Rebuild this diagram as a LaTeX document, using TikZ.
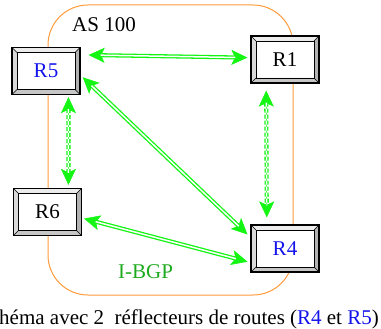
\documentclass[tikz,border=0pt]{standalone}
\usepackage{fontspec}
\setmainfont{Liberation Serif}
\usetikzlibrary{arrows.meta,calc}
\definecolor{bgpgreen}{RGB}{20,245,20}
\definecolor{ibgp}{RGB}{30,170,30}
\definecolor{asorange}{RGB}{255,155,60}
\definecolor{rblue}{RGB}{20,20,235}
\tikzset{
  router/.style={minimum width=68pt, minimum height=47pt, inner sep=0pt,
    fill=white, draw=black, line width=1.2pt, font=\fontsize{21}{21}\selectfont,
    path picture={
      \coordinate (nw) at (path picture bounding box.north west);
      \coordinate (ne) at (path picture bounding box.north east);
      \coordinate (sw) at (path picture bounding box.south west);
      \coordinate (se) at (path picture bounding box.south east);
      \coordinate (inw) at ($(nw)+(5pt,-5pt)$);
      \coordinate (ine) at ($(ne)+(-5pt,-5pt)$);
      \coordinate (isw) at ($(sw)+(5pt,5pt)$);
      \coordinate (ise) at ($(se)+(-5pt,5pt)$);
      \fill[gray!15] (nw) -- (ne) -- (ine) -- (inw) -- cycle;
      \fill[gray!30] (nw) -- (inw) -- (isw) -- (sw) -- cycle;
      \fill[gray!60] (ne) -- (se) -- (ise) -- (ine) -- cycle;
      \fill[gray!45] (sw) -- (isw) -- (ise) -- (se) -- cycle;
      \draw[line width=0.8pt] (inw) rectangle (ise);
      \draw[line width=0.6pt] (nw) -- (inw) (ne) -- (ine) (sw) -- (isw) (se) -- (ise);
    }},
  tips/.style={draw=bgpgreen, fill=bgpgreen, line width=0.5pt,
    {Stealth[length=16pt,width=15pt,inset=3.5pt]}-{Stealth[length=16pt,width=15pt,inset=3.5pt]}},
  dline/.style={draw=bgpgreen, line width=1.3pt, double=white, double distance=1.5pt},
  lbl/.style={font=\fontsize{21}{21}\selectfont, inner sep=0pt}
}
\begin{document}
\begin{tikzpicture}[x=1pt,y=-1pt]
\useasboundingbox (0,0) rectangle (381,329);
\draw[asorange, line width=1pt, rounded corners=40pt] (48,5) rectangle (293,295);
\node[router] (r5) at (46,71) {\textcolor{rblue}{R5}};
\node[router] (r1) at (285,59.5) {R1};
\node[router] (r6) at (47.5,212) {R6};
\node[router] (r4) at (285,248.5) {\textcolor{rblue}{R4}};
\node[lbl, anchor=base west] (as) at (72,32) {AS 100};
\node[lbl, anchor=base west, text=ibgp] (ib) at (118,278) {I-BGP};
\node[lbl, anchor=base west] (cap) at (-1,324) {héma avec 2\ \ réflecteurs de routes (\textcolor{rblue}{R4} et \textcolor{rblue}{R5})};
% solid links
\draw[tips, shorten <=8pt, shorten >=3pt] (r5.25) -- (r1.177);
\draw[dline, shorten <=20pt, shorten >=15pt] (r5.25) -- (r1.177);
\draw[tips, shorten <=3pt, shorten >=4pt] (r5.-7) -- (r4.162);
\draw[dline, shorten <=15pt, shorten >=16pt] (r5.-7) -- (r4.162);
\draw[tips, shorten <=2pt, shorten >=3pt] (r6.-10) -- (r4.202);
\draw[dline, shorten <=14pt, shorten >=15pt] (r6.-10) -- (r4.202);
% dashed links
\draw[tips, shorten <=2pt, shorten >=3pt] (r5.-47) -- (r6.49);
\draw[dline, dash pattern=on 4pt off 2pt, shorten <=14pt, shorten >=15pt] (r5.-47) -- (r6.49);
\draw[tips, shorten <=7pt, shorten >=7pt] (r1.232) -- (r4.127.5);
\draw[dline, dash pattern=on 4pt off 2pt, shorten <=19pt, shorten >=19pt] (r1.232) -- (r4.127.5);
\end{tikzpicture}
\end{document}
